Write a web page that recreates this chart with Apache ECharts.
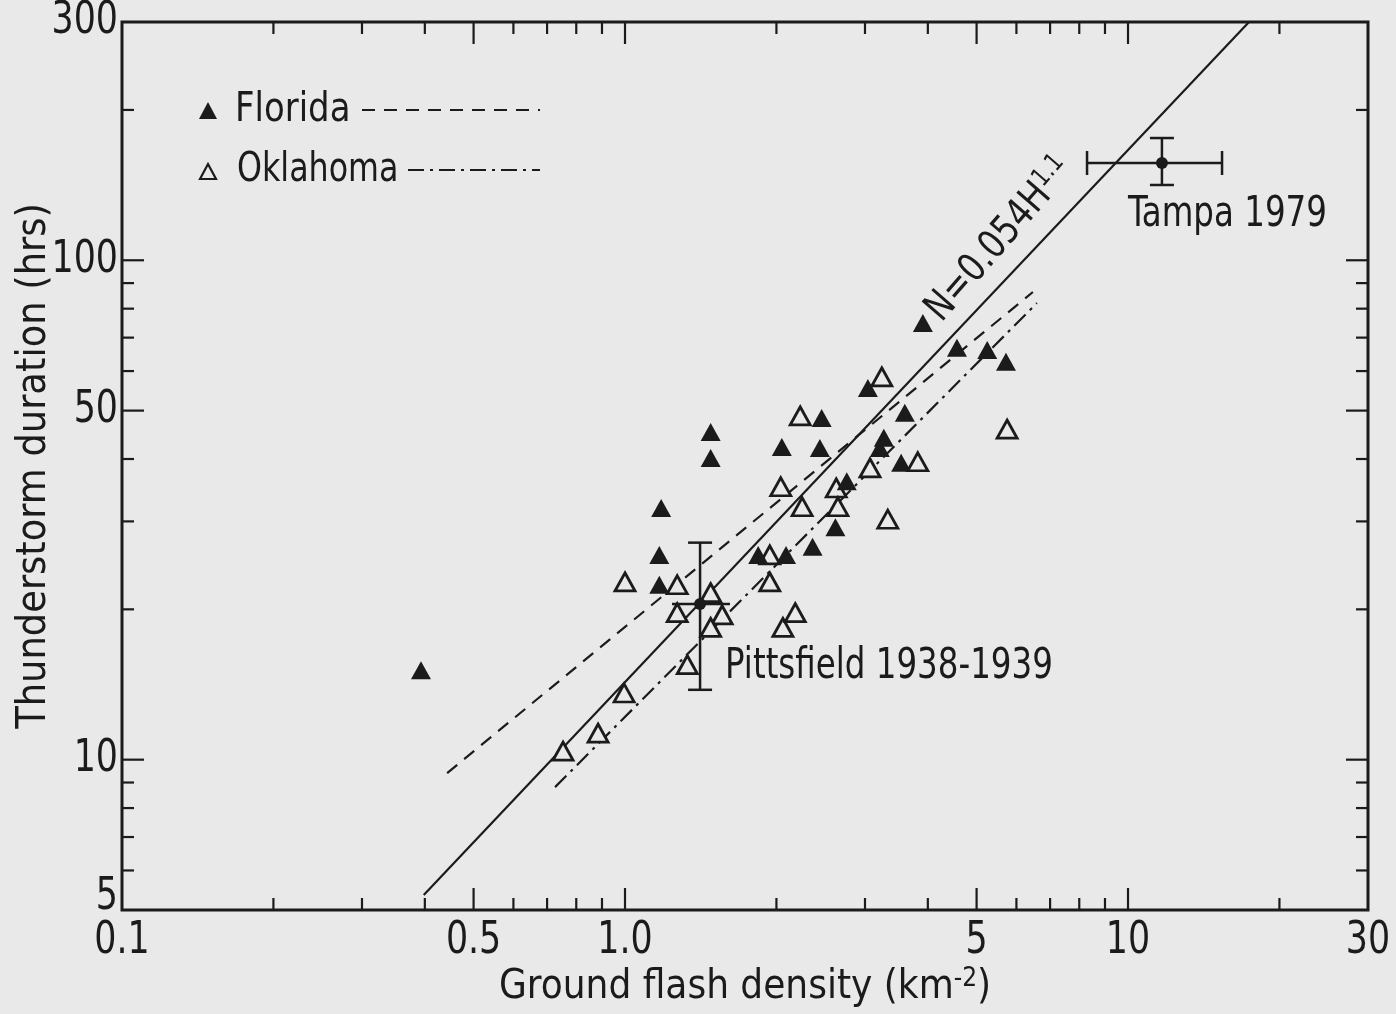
<!DOCTYPE html>
<html>
<head>
<meta charset="utf-8">
<script src="https://cdn.jsdelivr.net/npm/echarts@6/dist/echarts.min.js"></script>
<style>
html,body{margin:0;padding:0;background:#e9e9e9;}
#c{width:1396px;height:1014px;}
</style>
</head>
<body>
<div id="c"></div>
<script>
// ---------------- data ----------------
const floridaX = [0.393, 1.18, 1.17, 1.17, 1.48, 1.48, 1.84, 2.09, 2.05, 2.46, 2.44, 2.36, 2.62, 2.76, 3.04, 3.21, 3.27, 3.60, 3.54, 3.91, 4.57, 5.25, 5.72];
const floridaY = [15.1, 31.9, 25.7, 22.4, 45.3, 40.2, 25.7, 25.7, 42.3, 48.3, 42.1, 26.7, 29.2, 36.1, 55.5, 42.1, 44.1, 49.5, 39.3, 74.9, 66.8, 66.1, 62.6];

const oklahomaX = [0.753, 0.884, 0.996, 1.0, 1.27, 1.27, 1.33, 1.48, 1.56, 1.48, 1.94, 1.94, 2.06, 2.18, 2.04, 2.25, 2.23, 2.63, 2.65, 3.07, 3.24, 3.82, 3.33, 5.75];
const oklahomaY = [10.4, 11.3, 13.6, 22.7, 22.4, 19.7, 15.5, 21.6, 19.5, 18.4, 25.7, 22.7, 18.4, 19.7, 35.2, 32.1, 48.8, 35.0, 32.1, 38.4, 58.4, 39.5, 30.3, 45.9];

// regression lines (end points)
const fitAllX = [0.398, 17.4];
const fitAllY = [5.36, 300];
const floridaFitX = [0.443, 6.47];
const floridaFitY = [9.40, 86.4];
const oklahomaFitX = [0.726, 6.59];
const oklahomaFitY = [8.81, 82.1];

// single stations with error bars: [x, y, xLow, xHigh, yLow, yHigh]
const stationNames = ['Pittsfield 1938-1939', 'Tampa 1979'];
const pittsfield = [1.41, 20.5, 1.24, 1.617, 13.8, 27.2];
const tampa = [11.68, 156.6, 8.29, 15.38, 141.5, 175.7];

// axes
const xMin = 0.1, xMax = 30, yMin = 5, yMax = 300;
const xTickLabelValues = [0.1, 0.5, 1, 5, 10, 30];
const xTickLabels = ['0.1', '0.5', '1.0', '5', '10', '30'];
const yTickLabelValues = [300, 100, 50, 10, 5];
const yTickLabels = ['300', '100', '50', '10', '5'];
const xMajorTicks = [0.5, 1, 5, 10];
const xMinorTicks = [0.2, 0.3, 0.4, 0.6, 0.7, 0.8, 0.9, 2, 3, 4, 6, 7, 8, 9, 20];
const yMajorTicks = [10, 50, 100];
const yMinorTicks = [6, 7, 8, 9, 20, 30, 40, 60, 70, 80, 90, 200];

const legendNames = ['Florida', 'Oklahoma'];
const equationMain = 'N=0.054H';
const equationExp = '1.1';
const xTitle = 'Ground flash density (km';
const xTitleSup = '-2';
const yTitle = 'Thunderstorm duration (hrs)';

// ---------------- style ----------------
const INK = '#1b1b1b';
const BG = '#e9e9e9';
const FONT = "'Liberation Sans Narrow','DejaVu Sans Condensed','Liberation Sans',sans-serif";
const DASH_FL = [13, 9];
const DASH_OK = [16, 6, 3, 6];

function pairs(xs, ys) { return xs.map((x, i) => [x, ys[i]]); }

function errorBarRenderer(capX, capY, labelDx, labelDy) {
  return function (params, api) {
    const c = api.coord([api.value(0), api.value(1)]);
    const xl = api.coord([api.value(2), api.value(1)]);
    const xh = api.coord([api.value(3), api.value(1)]);
    const yl = api.coord([api.value(0), api.value(4)]);
    const yh = api.coord([api.value(0), api.value(5)]);
    const st = { stroke: INK, lineWidth: 2.5 };
    const cap = 12;
    const ch = [
      { type: 'line', shape: { x1: xl[0], y1: c[1], x2: xh[0], y2: c[1] }, style: st },
      { type: 'line', shape: { x1: c[0], y1: yl[1], x2: c[0], y2: yh[1] }, style: st },
      { type: 'circle', shape: { cx: c[0], cy: c[1], r: 6 }, style: { fill: INK } },
      { type: 'text', x: c[0] + labelDx, y: c[1] + labelDy, scaleX: 0.86,
        style: { text: params.seriesName, fill: INK, font: '42px ' + FONT, align: 'left', verticalAlign: 'middle' } }
    ];
    if (capX) {
      ch.push({ type: 'line', shape: { x1: xl[0], y1: c[1] - cap, x2: xl[0], y2: c[1] + cap }, style: st });
      ch.push({ type: 'line', shape: { x1: xh[0], y1: c[1] - cap, x2: xh[0], y2: c[1] + cap }, style: st });
    }
    if (capY) {
      ch.push({ type: 'line', shape: { x1: c[0] - cap, y1: yl[1], x2: c[0] + cap, y2: yl[1] }, style: st });
      ch.push({ type: 'line', shape: { x1: c[0] - cap, y1: yh[1], x2: c[0] + cap, y2: yh[1] }, style: st });
    }
    return { type: 'group', children: ch };
  };
}

const chart = echarts.init(document.getElementById('c'), null, { renderer: 'canvas' });

const option = {
  backgroundColor: BG,
  animation: false,
  grid: { left: 122, right: 28, top: 22, bottom: 104, containLabel: false, outerBoundsMode: 'none',
    show: true, borderColor: INK, borderWidth: 3, backgroundColor: 'transparent' },
  xAxis: {
    type: 'log', logBase: 10, min: xMin, max: xMax,
    axisLine: { show: false }, axisTick: { show: false }, axisLabel: { show: false }, splitLine: { show: false },
    name: '{t|' + xTitle + '}{s|' + xTitleSup + '}{t|)}',
    nameLocation: 'middle', nameGap: 56,
    nameTextStyle: {
      rich: {
        t: { fontFamily: FONT, fontSize: 40, color: INK, lineHeight: 44 },
        s: { fontFamily: FONT, fontSize: 26, color: INK, verticalAlign: 'top', lineHeight: 44 }
      }
    }
  },
  yAxis: {
    type: 'log', logBase: 10, min: yMin, max: yMax,
    axisLine: { show: false }, axisTick: { show: false }, axisLabel: { show: false }, splitLine: { show: false },
    name: yTitle, nameLocation: 'middle', nameGap: 67,
    nameTextStyle: { fontFamily: FONT, fontSize: 41, color: INK }
  },
  series: [
    { type: 'line', name: 'N=0.054H^1.1', data: pairs(fitAllX, fitAllY), symbol: 'none', silent: true,
      lineStyle: { color: INK, width: 2.2 }, z: 2 },
    { type: 'line', name: 'Florida fit', data: pairs(floridaFitX, floridaFitY), symbol: 'none', silent: true,
      lineStyle: { color: INK, width: 2.2, type: DASH_FL }, z: 2 },
    { type: 'line', name: 'Oklahoma fit', data: pairs(oklahomaFitX, oklahomaFitY), symbol: 'none', silent: true,
      lineStyle: { color: INK, width: 2.2, type: DASH_OK }, z: 2 },
    { type: 'scatter', name: legendNames[1], data: pairs(oklahomaX, oklahomaY), symbol: 'triangle', symbolSize: [20, 18],
      itemStyle: { color: BG, borderColor: INK, borderWidth: 2.8, opacity: 1 }, z: 3 },
    { type: 'scatter', name: legendNames[0], data: pairs(floridaX, floridaY), symbol: 'triangle', symbolSize: [20, 18],
      itemStyle: { color: INK, opacity: 1 }, z: 4 },
    { type: 'custom', name: stationNames[0], data: [pittsfield], renderItem: errorBarRenderer(false, true, 25, 63), z: 5 },
    { type: 'custom', name: stationNames[1], data: [tampa], renderItem: errorBarRenderer(true, true, -34, 52), z: 5 }
  ]
};
chart.setOption(option);

// ---------------- ticks, tick labels, legend, equation ----------------
const L = 122, R = 1368, T = 22, B = 910;
const px = v => chart.convertToPixel({ xAxisIndex: 0 }, v);
const py = v => chart.convertToPixel({ yAxisIndex: 0 }, v);
const g = [];
const tickStyle = { stroke: INK, lineWidth: 2.2 };
function xTick(v, len) {
  const x = px(v);
  g.push({ type: 'line', shape: { x1: x, y1: B, x2: x, y2: B - len }, style: tickStyle, silent: true });
  g.push({ type: 'line', shape: { x1: x, y1: T, x2: x, y2: T + len }, style: tickStyle, silent: true });
}
function yTick(v, len) {
  const y = py(v);
  g.push({ type: 'line', shape: { x1: L, y1: y, x2: L + len, y2: y }, style: tickStyle, silent: true });
  g.push({ type: 'line', shape: { x1: R, y1: y, x2: R - len, y2: y }, style: tickStyle, silent: true });
}
xMajorTicks.forEach(v => xTick(v, 22));
xMinorTicks.forEach(v => xTick(v, 12));
yMajorTicks.forEach(v => yTick(v, 22));
yMinorTicks.forEach(v => yTick(v, 12));

xTickLabelValues.forEach((v, i) => {
  g.push({ type: 'text', x: px(v), y: 920, scaleX: 0.88, silent: true,
    style: { text: xTickLabels[i], fill: INK, font: '44px ' + FONT, align: 'center', verticalAlign: 'top' } });
});
yTickLabelValues.forEach((v, i) => {
  g.push({ type: 'text', x: 118, y: Math.min(py(v), 898), scaleX: 0.88, silent: true,
    style: { text: yTickLabels[i], fill: INK, font: '44px ' + FONT, align: 'right', verticalAlign: 'middle' } });
});

// legend
g.push({ type: 'polygon', shape: { points: [[199, 119], [208, 102], [217, 119]] }, style: { fill: INK }, silent: true });
g.push({ type: 'text', x: 235, y: 110, scaleX: 0.92, silent: true,
  style: { text: legendNames[0], fill: INK, font: '41px ' + FONT, align: 'left', verticalAlign: 'middle' } });
g.push({ type: 'line', shape: { x1: 362, y1: 110, x2: 540, y2: 110 }, style: { stroke: INK, lineWidth: 2.2, lineDash: DASH_FL }, silent: true });
g.push({ type: 'polygon', shape: { points: [[200, 179], [208, 164], [216, 179]] }, style: { fill: BG, stroke: INK, lineWidth: 2.2 }, silent: true });
g.push({ type: 'text', x: 237, y: 170, scaleX: 0.86, silent: true,
  style: { text: legendNames[1], fill: INK, font: '41px ' + FONT, align: 'left', verticalAlign: 'middle' } });
g.push({ type: 'line', shape: { x1: 408, y1: 170, x2: 540, y2: 170 }, style: { stroke: INK, lineWidth: 2.2, lineDash: DASH_OK }, silent: true });

// equation label parallel to the overall fit line
const p1 = chart.convertToPixel({ gridIndex: 0 }, [fitAllX[0], fitAllY[0]]);
const p2 = chart.convertToPixel({ gridIndex: 0 }, [fitAllX[1], fitAllY[1]]);
const ang = Math.atan2(p1[1] - p2[1], p2[0] - p1[0]);
g.push({ type: 'text', x: 1000, y: 240, rotation: ang + 0.04, scaleX: 0.9, silent: true,
  style: {
    text: '{n|' + equationMain + '}{e|' + equationExp + '}',
    align: 'center', verticalAlign: 'middle',
    rich: {
      n: { font: '40px ' + FONT, fill: INK, lineHeight: 44 },
      e: { font: '26px ' + FONT, fill: INK, verticalAlign: 'top', lineHeight: 44 }
    }
  } });

chart.setOption({ graphic: { elements: g } });
</script>
</body>
</html>
